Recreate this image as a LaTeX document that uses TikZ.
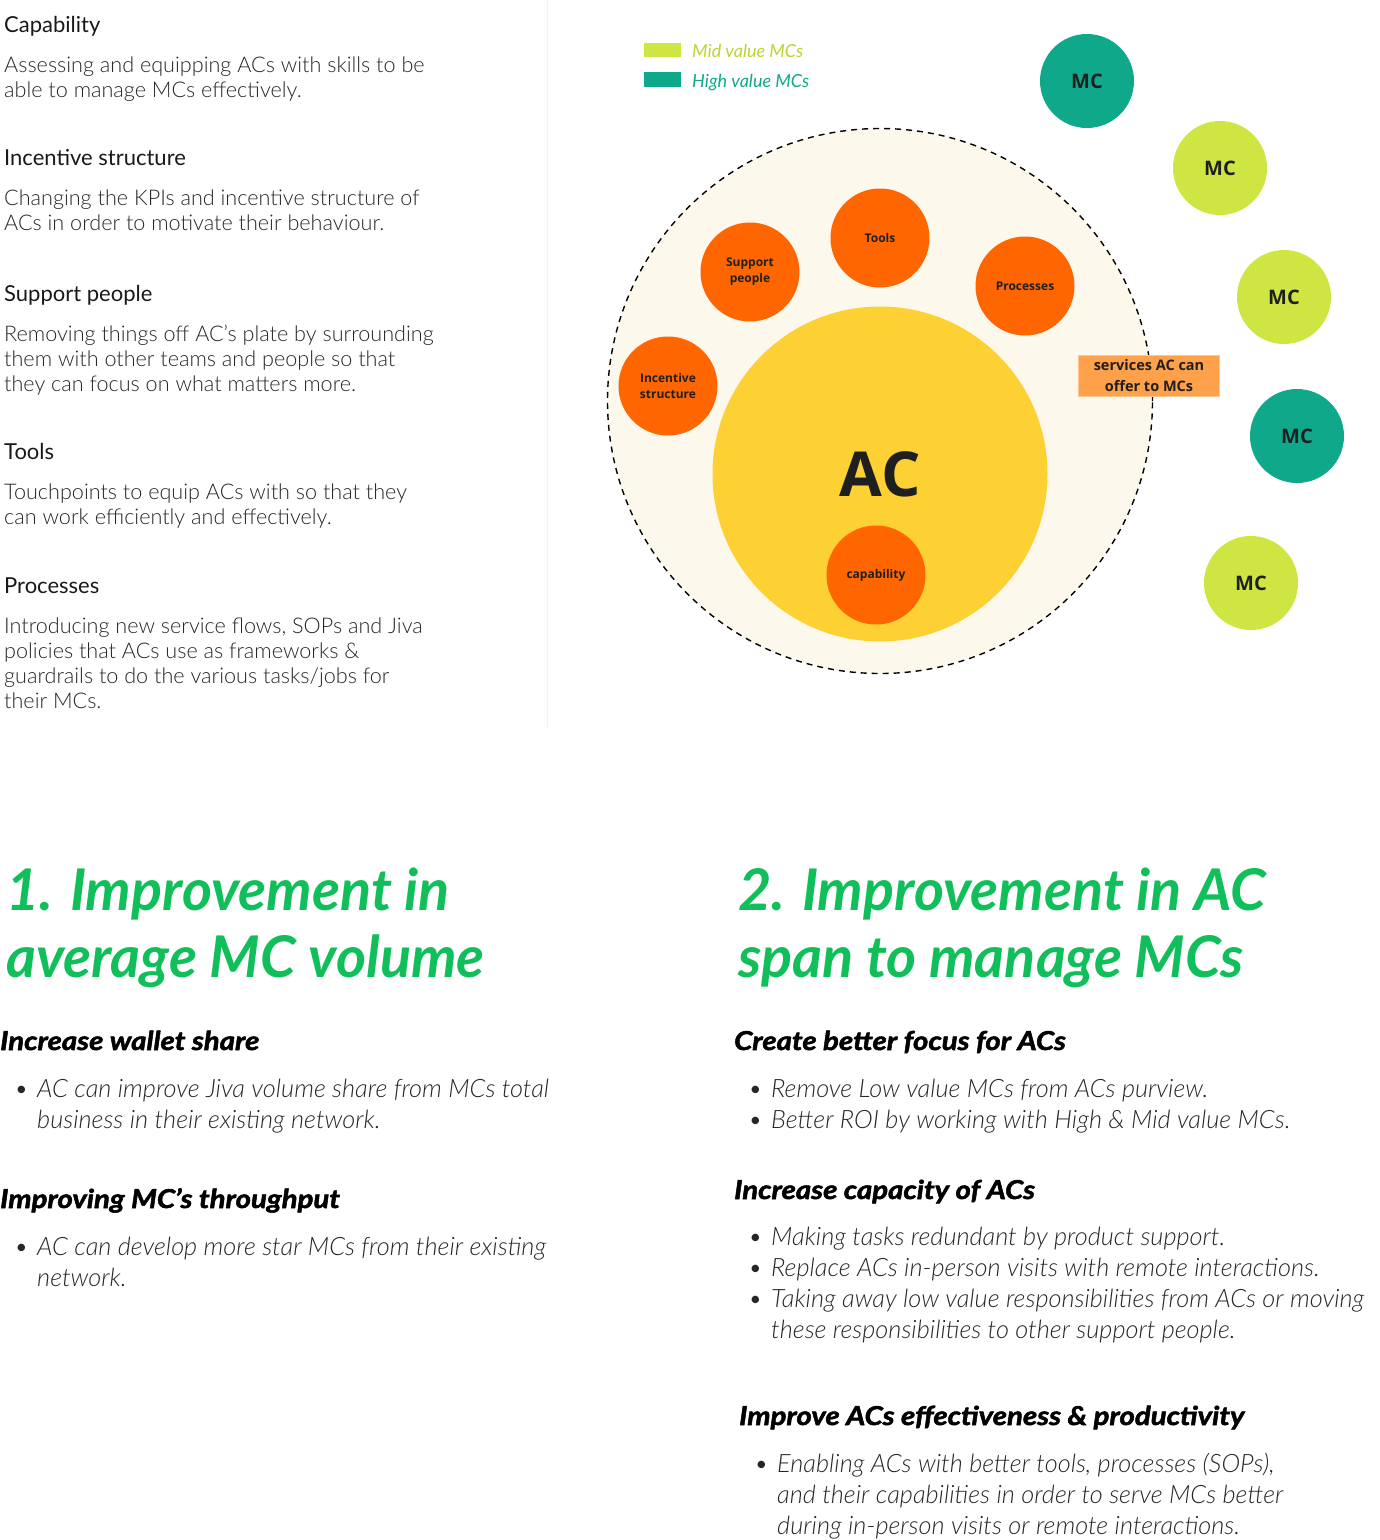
\documentclass[tikz,border=0pt]{standalone}
\usepackage{fontspec}
\setmainfont{Lato}
\newfontfamily\osans{Open Sans}
\IfFontExistsTF{Lato Light}{\newfontfamily\lightfont{Lato Light}}{\newcommand\lightfont{}}
\newfontfamily\blackit{Lato}[BoldItalicFeatures={FakeBold=2,FakeStretch=1.13}]

\definecolor{highmc}{HTML}{0FA88A}
\definecolor{midmc}{HTML}{CFE642}
\definecolor{midtext}{HTML}{BFD231}
\definecolor{lever}{HTML}{FF6600}
\definecolor{acyellow}{HTML}{FDD033}
\definecolor{cream}{HTML}{FDF8EC}
\definecolor{offer}{HTML}{FFA04A}
\definecolor{titlegreen}{HTML}{10BE5A}
\definecolor{bodygray}{HTML}{262626}

\newcommand\bitem[1]{\par\hangindent=23pt\hangafter=1\noindent\makebox[23pt][l]{\textbullet}#1}

\tikzset{
  mc/.style={circle,minimum size=94pt,inner sep=0,font=\osans\bfseries\fontsize{20}{20}\selectfont,text=black!88},
  high/.style={mc,fill=highmc},
  mid/.style={mc,fill=midmc},
  lever/.style={circle,fill=lever,minimum size=99pt,inner sep=0,align=center,font=\osans\bfseries\fontsize{12}{16}\selectfont,text=black!88},
  head/.style={anchor=base west,inner sep=0,font=\fontsize{22}{26}\selectfont,text=black!90},
  desc/.style={anchor=base west,inner sep=0,font=\lightfont\fontsize{21.6}{25}\selectfont,text=bodygray},
  big/.style={anchor=base west,inner sep=0,font=\bfseries\itshape\fontsize{57.5}{67}\selectfont,text=titlegreen},
  sub/.style={anchor=base west,inner sep=0,font=\blackit\bfseries\itshape\fontsize{26}{30}\selectfont,text=black},
  bul/.style={anchor=base west,inner sep=0,font=\lightfont\itshape\fontsize{25.3}{31}\selectfont,text=bodygray},
  key/.style={anchor=base west,inner sep=0,font=\itshape\fontsize{18}{20}\selectfont}
}

\begin{document}
\begin{tikzpicture}[x=1pt,y=-1pt]
\useasboundingbox (0,0) rectangle (1380,1540);

% left column
\draw [black!5] (547,0) -- (547,728);

\node [head] (hcap) at (4,32) {Capability};
\node [desc] (dcap) at (4,72) {\parbox[t]{480pt}{Assessing and equipping ACs with skills to be\\able to manage MCs effectively.}};
\node [head] (hinc) at (4,165) {Incentive structure};
\node [desc] (dinc) at (4,205) {\parbox[t]{480pt}{Changing the KPIs and incentive structure of\\ACs in order to motivate their behaviour.}};
\node [head] (hsup) at (4,301) {Support people};
\node [desc] (dsup) at (4,341) {\parbox[t]{480pt}{Removing things off AC’s plate by surrounding\\them with other teams and people so that\\they can focus on what matters more.}};
\node [head] (htool) at (4,459) {Tools};
\node [desc] (dtool) at (4,499) {\parbox[t]{480pt}{Touchpoints to equip ACs with so that they\\can work efficiently and effectively.}};
\node [head] (hproc) at (4,593) {Processes};
\node [desc] (dproc) at (4,633) {\parbox[t]{480pt}{Introducing new service flows, SOPs and Jiva\\policies that ACs use as frameworks \&\\guardrails to do the various tasks/jobs for\\their MCs.}};

% legend
\fill [midmc] (644,43) rectangle (681,57);
\fill [highmc] (644,72) rectangle (681,87);
\node [key,text=midtext] (kmid) at (692,57) {Mid value MCs};
\node [key,text=highmc] (khigh) at (692,87) {High value MCs};

% AC and its levers
\node [circle,draw,dashed,line width=1.4pt,dash pattern=on 6pt off 5pt,fill=cream,minimum size=545pt] (zone) at (880,401) {};
\node [circle,fill=acyellow,minimum size=335pt,inner sep=0,font=\osans\bfseries\fontsize{62}{62}\selectfont,text=black!88] (ac) at (880,474) {AC};

\node [lever] (ltool) at (880,238) {Tools};
\node [lever] (lsup) at (750,272) {Support\\people};
\node [lever] (lproc) at (1025,286) {Processes};
\node [lever] (linc) at (668,386) {Incentive\\structure};
\node [lever] (lcap) at (876,575) {capability};

\node [fill=offer,draw=offer!60!white,minimum width=141pt,minimum height=41pt,inner sep=0,align=center,font=\osans\bfseries\fontsize{14.5}{21}\selectfont,text=black!88] (offer) at (1149,376) {services AC can\\offer to MCs};

% MCs
\node [high] (mc1) at (1087,81) {MC};
\node [mid] (mc2) at (1220,168) {MC};
\node [mid] (mc3) at (1284,297) {MC};
\node [high] (mc4) at (1297,436) {MC};
\node [mid] (mc5) at (1251,583) {MC};

% 1. volume
\node [big] (t1) at (6,910) {\parbox[t]{640pt}{1. Improvement in\\average MC volume}};
\node [sub] (s11) at (0,1050) {Increase wallet share};
\node [bul] (b11) at (14,1097) {\parbox[t]{600pt}{\bitem{AC can improve Jiva volume share from MCs total\\business in their existing network.}}};
\node [sub] (s12) at (0,1208) {Improving MC’s throughput};
\node [bul] (b12) at (14,1255) {\parbox[t]{600pt}{\bitem{AC can develop more star MCs from their existing\\network.}}};

% 2. span
\node [big] (t2) at (738,910) {\parbox[t]{640pt}{2. Improvement in AC\\span to manage MCs}};
\node [sub] (s21) at (734,1050) {Create better focus for ACs};
\node [bul] (b21) at (748,1097) {\parbox[t]{630pt}{\bitem{Remove Low value MCs from ACs purview.}\bitem{Better ROI by working with High \& Mid value MCs.}}};
\node [sub] (s22) at (734,1199) {Increase capacity of ACs};
\node [bul] (b22) at (748,1245) {\parbox[t]{630pt}{\bitem{Making tasks redundant by product support.}\bitem{Replace ACs in-person visits with remote interactions.}\bitem{Taking away low value responsibilities from ACs or moving\\these responsibilities to other support people.}}};
\node [sub] (s23) at (739,1425) {Improve ACs effectiveness \& productivity};
\node [bul] (b23) at (754,1472) {\parbox[t]{620pt}{\bitem{Enabling ACs with better tools, processes (SOPs),\\and their capabilities in order to serve MCs better\\during in-person visits or remote interactions.}}};

\end{tikzpicture}
\end{document}
